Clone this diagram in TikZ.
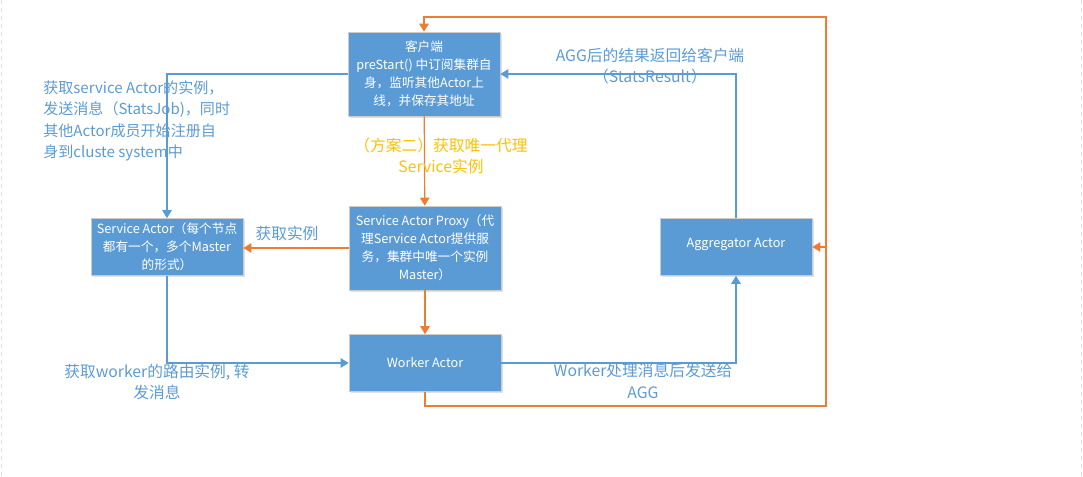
\documentclass[tikz,border=0pt]{standalone}
\usepackage{fontspec}
\setmainfont{Noto Sans CJK SC}
\usepackage{tikz}
\usetikzlibrary{arrows.meta,shadows}
\definecolor{boxblue}{HTML}{5B9BD5}
\definecolor{lineorange}{HTML}{ED7D31}
\definecolor{noteyellow}{HTML}{FFC000}
\tikzset{actorbox/.style={draw=gray!40,fill=boxblue,text=white,align=center,inner sep=2pt,
  font=\fontsize{9.5}{13.5}\selectfont,minimum width=114pt,minimum height=42.75pt,
  drop shadow={shadow xshift=1.2pt,shadow yshift=-1.2pt,opacity=0.12,fill=black}},
bigactorbox/.style={actorbox,minimum height=63pt},
bluearrow/.style={draw=boxblue,line width=0.9pt,-{Triangle[length=6pt,width=7pt]}},
orangearrow/.style={draw=lineorange,line width=0.9pt,-{Triangle[length=6pt,width=7pt]}},
bluenote/.style={text=boxblue,align=center,inner sep=0pt,font=\fontsize{11.8}{16}\selectfont},
yellownote/.style={bluenote,text=noteyellow}}

\begin{document}
\begin{tikzpicture}[x=0.75pt,y=-0.75pt]
\useasboundingbox (0,0) rectangle (1083,477);
\draw[gray!25,dashed] (1,0) -- (1,477) (1081,0) -- (1081,477);
% actors
\node[bigactorbox] (client) at (424,74) {客户端\\preStart() 中订阅集群自\\身，监听其他Actor上\\线，并保存其地址};
\node[bigactorbox] (proxy) at (425,248) {Service Actor Proxy（代\\理Service Actor提供服\\务，集群中唯一个实例\\Master）};
\node[actorbox] (service) at (167,247) {Service Actor（每个节点\\都有一个，多个Master\\的形式）};
\node[actorbox] (worker) at (425,363) {Worker Actor};
\node[actorbox] (agg) at (736,247) {\raisebox{6pt}{Aggregator Actor}};
\coordinate (loopbr) at (826,406);
\coordinate (looptr) at (826,17);
% orange flow
\draw[orangearrow] (client) -- (proxy);
\draw[orangearrow] (proxy) -- (worker);
\draw[orangearrow] (proxy.west) -- (proxy.west -| service.east);
\draw[orangearrow] (worker.south) |- (loopbr) -- (looptr) -| (client.north);
\draw[orangearrow] (loopbr |- agg.east) -- (agg.east);
% blue flow
\draw[bluearrow] (client.west) -| (service.north);
\draw[bluearrow] (service.south) |- (worker.west);
\draw[bluearrow] (worker.east) -| (agg.south);
\draw[bluearrow] (agg.north) |- (client.east);
% notes
\node[bluenote,align=left,anchor=west,font=\fontsize{11.3}{16}\selectfont] (jobnote) at (43,121) {获取service Actor的实例，\\发送消息（StatsJob)，同时\\其他Actor成员开始注册自\\身到cluste system中};
\node[bluenote] (resultnote) at (650,66) {AGG后的结果返回给客户端\\（StatsResult）};
\node[yellownote] (proxynote) at (441,156) {（方案二）获取唯一代理\\Service实例};
\node[bluenote] (getnote) at (287,233) {获取实例};
\node[bluenote] (routenote) at (157,382) {获取worker的路由实例, 转\\发消息};
\node[bluenote] (aggnote) at (643,381) {Worker处理消息后发送给\\AGG};
\end{tikzpicture}
\end{document}
